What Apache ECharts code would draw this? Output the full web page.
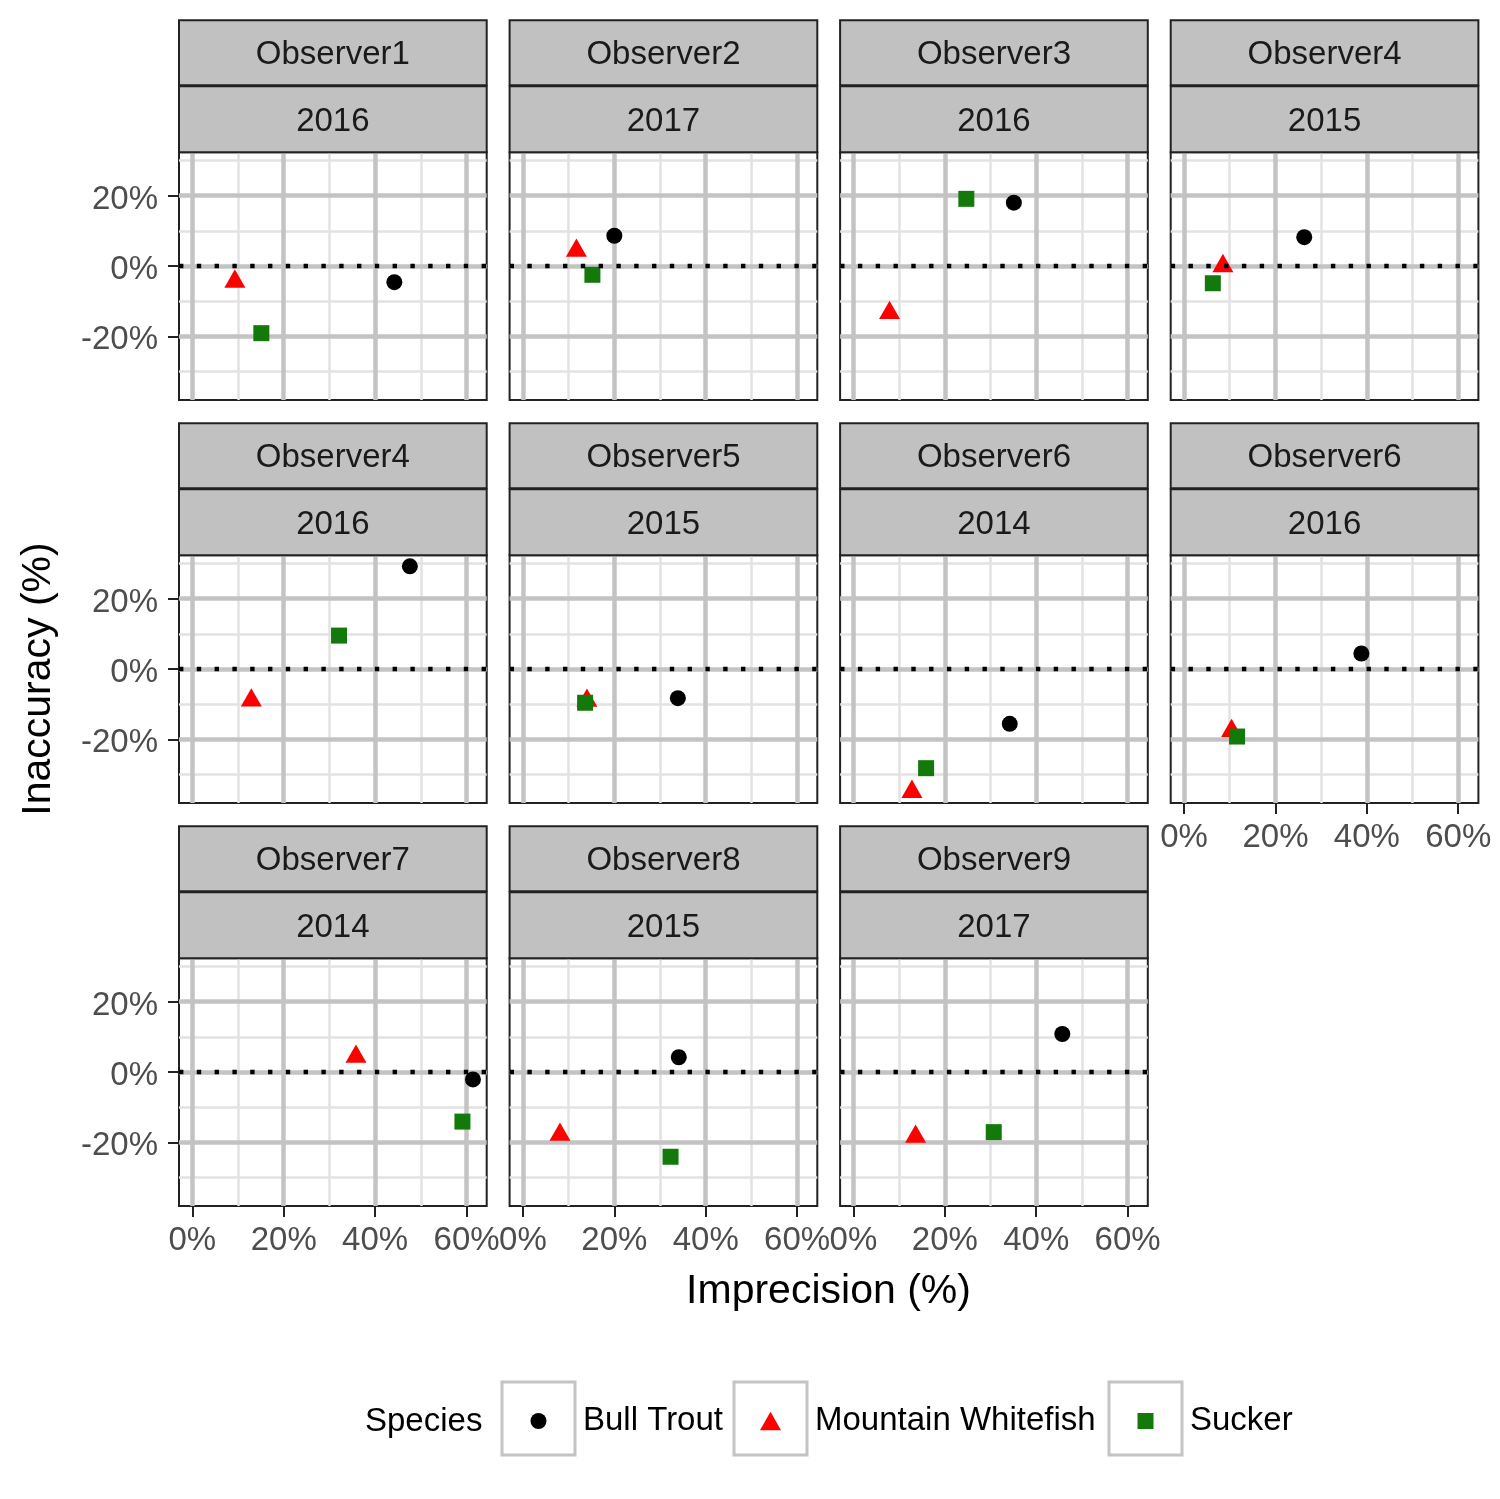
<!DOCTYPE html>
<html><head><meta charset="utf-8">
<script src="https://cdn.jsdelivr.net/npm/echarts@6/dist/echarts.min.js"></script>
<style>html,body{margin:0;padding:0;background:#fff}#c{width:1500px;height:1499px}</style>
</head><body><div id="c"></div><script>
// ---- data ----
const observers = ['Observer1','Observer2','Observer3','Observer4','Observer4','Observer5','Observer6','Observer6','Observer7','Observer8','Observer9'];
const years = ['2016','2017','2016','2015','2016','2015','2014','2016','2014','2015','2017'];
const species = ['Bull Trout','Mountain Whitefish','Sucker'];
// Imprecision (%) = x, Inaccuracy (%) = y, one value per panel
const bullTroutX = [44.2, 20.0, 35.1, 26.3, 47.6, 33.9, 34.2, 38.8, 61.4, 34.1, 45.7];
const bullTroutY = [-4.6, 8.6, 18.0, 8.2, 29.2, -8.3, -15.6, 4.4, -2.1, 4.2, 10.8];
const whitefishX = [9.3, 11.7, 7.9, 8.5, 12.9, 14.0, 12.8, 10.4, 35.8, 8.1, 13.6];
const whitefishY = [-4.4, 4.4, -13.3, 0.0, -8.9, -9.0, -34.9, -17.6, 4.4, -17.8, -18.4];
const suckerX = [15.1, 15.2, 24.7, 6.3, 32.1, 13.6, 15.9, 11.6, 59.1, 32.3, 30.7];
const suckerY = [-19.1, -2.5, 19.1, -4.9, 9.5, -9.6, -28.2, -19.2, -14.1, -24.1, -17.1];
const xMajorTicks = [0, 20, 40, 60];
const xMinorTicks = [10, 30, 50];
const yMajorTicks = [-20, 0, 20];
const yMinorTicks = [-30, -10, 10, 30];
const referenceY = 0;

// ---- layout / style ----
const FONT = "'Liberation Sans', Arial, Helvetica, sans-serif";
const X_MIN = -2.92, X_MAX = 64.41, Y_MIN = -38.1, Y_MAX = 32.33;
const colLeft = [179, 509.6, 840.1, 1170.7];
const rowTop = [152.3, 555.3, 958.3];
const panelW = 307.7, panelH = 247.7;
const speciesStyle = [
  {symbol: 'circle', size: 16, offset: [0, 0], color: '#000000'},
  {symbol: 'triangle', size: [21, 18.3], offset: [0, -3], color: '#FF0000'},
  {symbol: 'rect', size: 16, offset: [0, 0], color: '#12790A'}
];
const xs = [bullTroutX, whitefishX, suckerX];
const ys = [bullTroutY, whitefishY, suckerY];

const grids = [], xAxes = [], yAxes = [], series = [], graphics = [];
const pct = v => v + '%';
const nPanels = observers.length;
for (let i = 0; i < nPanels; i++) {
  const row = Math.floor(i / 4), col = i % 4;
  const showX = (i + 4) >= nPanels;
  const showY = col === 0;
  grids.push({left: colLeft[col], top: rowTop[row], width: panelW, height: panelH,
    show: true, backgroundColor: '#fff', borderColor: '#222', borderWidth: 2});
  // minor axes
  xAxes.push({gridIndex: i, type: 'value', position: 'bottom', min: X_MIN, max: X_MAX, z: 0,
    axisLine: {show: false, onZero: false}, axisTick: {show: false, customValues: xMinorTicks},
    axisLabel: {show: false, customValues: xMinorTicks},
    splitLine: {show: true, lineStyle: {color: '#E2E2E2', width: 2.5}}});
  yAxes.push({gridIndex: i, type: 'value', position: 'left', min: Y_MIN, max: Y_MAX, z: 0,
    axisLine: {show: false, onZero: false}, axisTick: {show: false, customValues: yMinorTicks},
    axisLabel: {show: false, customValues: yMinorTicks},
    splitLine: {show: true, lineStyle: {color: '#E2E2E2', width: 2.5}}});
  // major axes
  xAxes.push({gridIndex: i, type: 'value', position: 'bottom', min: X_MIN, max: X_MAX, z: 1,
    axisLine: {show: false, onZero: false},
    axisTick: {show: showX, customValues: xMajorTicks, length: 11, lineStyle: {color: '#222', width: 2}},
    axisLabel: {show: showX, customValues: xMajorTicks, formatter: pct, fontSize: 33, color: '#4D4D4D', margin: 18, fontFamily: FONT},
    splitLine: {show: true, lineStyle: {color: '#C3C3C3', width: 4.5}}});
  yAxes.push({gridIndex: i, type: 'value', position: 'left', min: Y_MIN, max: Y_MAX, z: 1,
    axisLine: {show: false, onZero: false},
    axisTick: {show: showY, customValues: yMajorTicks, length: 11, lineStyle: {color: '#222', width: 2}},
    axisLabel: {show: showY, customValues: yMajorTicks, formatter: pct, fontSize: 33, color: '#4D4D4D', margin: 21,
      fontFamily: FONT, verticalAlign: 'top', lineHeight: 8},
    splitLine: {show: true, lineStyle: {color: '#C3C3C3', width: 4.5}}});
  const ax = 2 * i + 1;
  // zero reference line
  series.push({name: 'ref' + i, type: 'scatter', xAxisIndex: ax, yAxisIndex: ax, data: [], z: 1.5, silent: true,
    markLine: {silent: true, symbol: ['none', 'none'], label: {show: false}, animation: false,
      lineStyle: {color: '#000', width: 4.4, type: [4.4, 13.4], cap: 'butt'},
      emphasis: {disabled: true},
      data: [{yAxis: referenceY}]}});
  for (let k = 0; k < species.length; k++) {
    const st = speciesStyle[k];
    series.push({name: species[k], type: 'scatter', xAxisIndex: ax, yAxisIndex: ax, z: 2,
      symbol: st.symbol, symbolSize: st.size, symbolOffset: st.offset,
      itemStyle: {color: st.color, opacity: 1}, emphasis: {disabled: true}, silent: true,
      data: [[xs[k][i], ys[k][i]]]});
  }
  // strips
  const x0 = colLeft[col], T = rowTop[row];
  graphics.push({type: 'rect', z: 10, shape: {x: x0, y: T - 132, width: panelW, height: 65},
    style: {fill: '#C1C1C1', stroke: '#222', lineWidth: 2}});
  graphics.push({type: 'rect', z: 10, shape: {x: x0, y: T - 66, width: panelW, height: 66},
    style: {fill: '#C1C1C1', stroke: '#222', lineWidth: 2}});
  graphics.push({type: 'text', z: 11, x: x0 + panelW / 2, y: T - 97,
    style: {text: observers[i], fontSize: 33, fill: '#1A1A1A', align: 'center', verticalAlign: 'middle', fontFamily: FONT}});
  graphics.push({type: 'text', z: 11, x: x0 + panelW / 2, y: T - 30.5,
    style: {text: years[i], fontSize: 33, fill: '#1A1A1A', align: 'center', verticalAlign: 'middle', fontFamily: FONT}});
}
// axis titles
graphics.push({type: 'text', z: 11, x: 828.5, y: 1292,
  style: {text: 'Imprecision (%)', fontSize: 41, fill: '#000', align: 'center', verticalAlign: 'middle', fontFamily: FONT}});
graphics.push({type: 'text', z: 11, x: 39, y: 679, rotation: Math.PI / 2,
  style: {text: 'Inaccuracy (%)', fontSize: 41, fill: '#000', align: 'center', verticalAlign: 'middle', fontFamily: FONT}});
// legend title and key boxes
graphics.push({type: 'text', z: 11, x: 365, y: 1422,
  style: {text: 'Species', fontSize: 33, fill: '#000', align: 'left', verticalAlign: 'middle', fontFamily: FONT}});
const keyLeft = [502, 734, 1109], keyTop = 1382, keySize = 73;
keyLeft.forEach(l => graphics.push({type: 'rect', z: 0, shape: {x: l, y: keyTop, width: keySize, height: keySize},
  style: {fill: '#fff', stroke: '#C4C4C4', lineWidth: 3}}));
const legendIcons = ['circle', 'path://M10.5,0 L21,18.3 L0,18.3 Z', 'path://M0,0 L16,0 L16,16 L0,16 Z'];
const legendW = [16, 21, 16], legendH = [16, 18.3, 16];
const legendCenterY = 1421;
const legends = species.map((s, k) => ({
  data: [{name: s, icon: legendIcons[k]}],
  // legend is positioned by its visible bounding box: icon's left edge and text box top
  left: keyLeft[k] + (keySize - legendW[k]) / 2, top: legendCenterY - 16.5,
  orient: 'horizontal', padding: 0, itemWidth: keySize, itemHeight: legendH[k], selectedMode: false,
  textStyle: {fontSize: 33, color: '#000', fontFamily: FONT, padding: [0, 0, 0, 3]}
}));

const chart = echarts.init(document.getElementById('c'), null, {renderer: 'canvas'});
chart.setOption({
  backgroundColor: '#fff', animation: false,
  textStyle: {fontFamily: FONT},
  grid: grids, xAxis: xAxes, yAxis: yAxes, series: series,
  legend: legends, graphic: graphics
});
</script></body></html>
